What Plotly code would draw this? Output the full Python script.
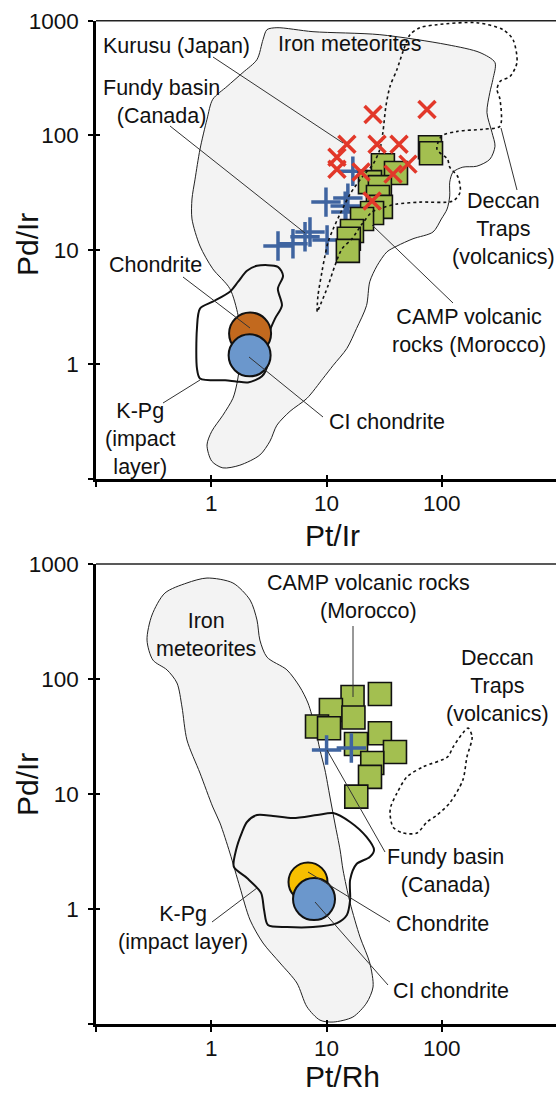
import plotly.graph_objects as go

W, H = 556, 1094
FONT = "Arial, Liberation Sans, sans-serif"

# ---------------- Top panel: Pt/Ir vs Pd/Ir ----------------
kurusu_ptir = [25.3, 74.3, 15.0, 27.4, 42.5, 12.3, 12.3, 19.9, 37.7, 50.8, 24.8]
kurusu_pdir = [152, 168, 83.5, 83.5, 83.5, 64.4, 50.6, 47.7, 45.8, 56.0, 26.7]

fundy_ptir = [3.79, 5.11, 6.50, 7.18, 10.1, 9.88, 14.5, 15.3, 14.7, 16.9]
fundy_pdir = [10.8, 11.3, 13.0, 14.3, 12.2, 26.1, 24.1, 28.3, 21.4, 48.6]

camp_ptir = [78.9, 80.5, 30.8, 40.0, 23.8, 29.0, 27.9, 29.6, 24.8, 20.3, 16.6, 15.6, 15.3]
camp_pdir = [78.7, 69.7, 54.8, 46.8, 39.0, 35.3, 28.9, 23.7, 21.0, 18.6, 14.6, 12.5, 9.8]

chondrite_ptir, chondrite_pdir = [2.17], [1.86]
ci_ptir, ci_pdir = [2.15], [1.20]

iron_ptir = [3.04, 3.71, 7.62, 29.0, 111, 214, 289, 277, 261, 246, 272, 289, 261, 201, 152,
             125, 117, 117, 111, 99, 83.7, 56.2, 40.8, 33.4, 27.4, 23.7, 22.2, 18.2, 15.0,
             11.4, 9.31, 6.76, 4.82, 3.71, 3.23, 2.64, 1.77, 1.26, 1.01, 0.918, 1.01, 1.26,
             1.54, 1.67, 1.77, 1.81, 1.71, 1.45, 1.03, 0.798, 0.680, 0.680, 0.723, 0.798,
             0.918, 1.03, 1.37, 1.88, 2.49, 2.81, 3.04]
iron_pdir = [835, 869, 802, 755, 618, 527, 431, 307, 237, 158, 106, 80.2, 61.8, 53.7, 52.7,
             47.7, 39.0, 29.5, 22.7, 18.6, 14.3, 12.5, 10.8, 9.61, 7.26, 5.27, 3.26, 2.06, 1.38,
             0.98, 0.755, 0.506, 0.390, 0.295, 0.214, 0.162, 0.132, 0.125, 0.143, 0.198, 0.261,
             0.360, 0.506, 0.683, 1.02, 1.68, 2.67, 4.58, 6.83, 10.8, 18.6, 27.8, 41.4, 75.5,
             138, 206, 267, 353, 458, 684, 835]

kpg_ptir = [2.49, 3.78, 4.19, 3.78, 4.10, 3.57, 3.23, 3.10, 3.10, 2.75, 2.08, 1.64, 1.32,
            0.798, 0.751, 0.751, 0.798, 1.03, 1.45, 1.71, 2.04, 2.49]
kpg_pdir = [7.26, 7.11, 5.94, 4.58, 3.26, 2.51, 1.98, 1.52, 1.02, 0.787, 0.697, 0.711, 0.726,
            0.755, 0.923, 2.06, 3.07, 3.53, 4.31, 5.27, 6.56, 7.26]

deccan_ptir = [8.26, 8.42, 9.12, 9.68, 10.3, 11.4, 13.1, 16.0, 20.3, 25.3, 29.0, 30.8, 32.7,
               35.5, 40.8, 46.0, 52.9, 64.5, 90.7, 201, 339, 414, 448, 390, 319, 301, 319,
               319, 227, 135, 99, 90.7, 112, 117, 138, 144, 125, 64.5, 40.8, 32.1, 24.8,
               20.3, 16.6, 13.6, 11.8, 10.3, 8.42]
deccan_pdir = [2.89, 3.98, 6.44, 8.87, 11.7, 15.2, 20.6, 30.7, 43.1, 56.0, 75.5, 106, 179,
               267, 375, 537, 755, 869, 923, 961, 835, 684, 431, 326, 295, 251, 206, 120,
               113, 108, 98, 75.5, 61.8, 52.7, 43.1, 31.9, 26.7, 26.1, 25.1, 23.7, 21.4,
               16.8, 12.5, 10.2, 7.26, 4.86, 2.95]

# ---------------- Bottom panel: Pt/Rh vs Pd/Ir ----------------
camp_ptrh = [16.8, 29.0, 10.9, 17.1, 8.26, 10.5, 18.0, 29.0, 39.2, 24.9, 23.8, 18.1]
camp_pdir_b = [69.7, 74.1, 53.7, 46.3, 38.6, 37.3, 27.2, 33.7, 23.2, 18.6, 14.1, 9.48]

fundy_ptrh = [10.0, 16.4]
fundy_pdir_b = [24.1, 25.1]

chondrite_ptrh, chondrite_pdir_b = [6.90], [1.72]
ci_ptrh, ci_pdir_b = [7.78], [1.22]

iron_ptrh = [0.918, 1.54, 2.17, 2.49, 2.64, 3.04, 4.53, 5.87, 6.90, 7.93, 8.77, 9.68, 10.7,
             11.8, 13.1, 13.9, 16.0, 19.5, 23.7, 25.3, 22.2, 16.9, 11.4, 8.77, 6.76, 5.53,
             3.95, 2.81, 2.17, 1.77, 1.45, 1.19, 1.03, 0.798, 0.615, 0.557, 0.504, 0.413,
             0.312, 0.277, 0.306, 0.396, 0.615, 0.918]
iron_pdir_b = [755, 684, 486, 326, 218, 155, 120, 85.2, 61.8, 38.3, 24.1, 16.2, 9.42, 5.59,
               3.26, 2.18, 1.13, 0.571, 0.339, 0.210, 0.152, 0.115, 0.104, 0.108, 0.141,
               0.227, 0.339, 0.506, 0.802, 1.55, 3.07, 5.59, 7.71, 15.2, 29.5, 57.1, 92.3,
               120, 146, 218, 360, 559, 684, 755]

kpg_ptrh = [2.49, 3.43, 5.11, 8.26, 11.4, 16.0, 22.2, 25.8, 23.7, 18.2, 16.0, 16.0, 15.0,
            12.3, 7.62, 4.53, 3.10, 2.87, 2.70, 2.04, 1.57, 1.64, 1.85, 2.04, 2.49]
kpg_pdir_b = [6.56, 6.44, 6.18, 6.56, 6.83, 5.71, 4.23, 3.26, 2.83, 2.46, 1.79, 1.20, 0.887,
              0.755, 0.697, 0.697, 0.726, 0.98, 1.38, 1.86, 2.32, 3.26, 4.67, 5.71, 6.56]

deccan_ptrh = [169, 183, 165, 152, 117, 90.7, 74.3, 60.8, 46.0, 37.7, 35.5, 36.2, 40.8, 49.8,
               68.5, 112, 125, 152, 169]
deccan_pdir_b = [37.5, 31.3, 21.0, 13.2, 8.35, 6.56, 5.71, 4.58, 4.58, 5.16, 6.83, 7.87, 10.2,
                 14.1, 17.2, 21.0, 25.6, 33.9, 37.5]

tick_vals = [0.1, 1, 10, 100, 1000]
tick_text = ["", "1", "10", "100", "1000"]

# ---------------- colours ----------------
C_IRON_FILL = "#f3f3f3"
C_CAMP = "#a3bf50"
C_KURUSU = "#e2382a"
C_FUNDY = "#3f64a0"
C_CHON_TOP = "#c2691e"
C_CHON_BOT = "#f7bf00"
C_CI = "#6b97cc"

fig = go.Figure()


def region(x, y, xa, ya, fill=None, width=1.0, dash=None, color="#222"):
    fig.add_trace(go.Scatter(
        x=x, y=y, xaxis=xa, yaxis=ya, mode="lines",
        fill="toself" if fill else None, fillcolor=fill,
        line=dict(color=color, width=width, dash=dash, shape="spline", smoothing=0.8),
        hoverinfo="skip", showlegend=False))


def points(x, y, xa, ya, symbol, size, color, lw, lc=None):
    marker = dict(symbol=symbol, size=size, color=color,
                  line=dict(color=lc if lc else color, width=lw))
    fig.add_trace(go.Scatter(x=x, y=y, xaxis=xa, yaxis=ya, mode="markers",
                             marker=marker, hoverinfo="skip", showlegend=False))


# top panel traces
region(iron_ptir, iron_pdir, "x", "y", fill=C_IRON_FILL, width=1.0)
region(kpg_ptir, kpg_pdir, "x", "y", width=2.0, color="#111")
points(chondrite_ptir, chondrite_pdir, "x", "y", "circle", 42, C_CHON_TOP, 2, "#111")
points(ci_ptir, ci_pdir, "x", "y", "circle", 42, C_CI, 2, "#111")
points(fundy_ptir, fundy_pdir, "x", "y", "cross-thin", 21, C_FUNDY, 3.5)
points(camp_ptir, camp_pdir, "x", "y", "square", 23, C_CAMP, 1.6, "#111")
region(deccan_ptir, deccan_pdir, "x", "y", width=1.6, dash="dot", color="#111")
points(kurusu_ptir, kurusu_pdir, "x", "y", "x-thin", 17, C_KURUSU, 3.5)

# bottom panel traces
region(iron_ptrh, iron_pdir_b, "x2", "y2", fill=C_IRON_FILL, width=1.0)
region(kpg_ptrh, kpg_pdir_b, "x2", "y2", width=2.0, color="#111")
region(deccan_ptrh, deccan_pdir_b, "x2", "y2", width=1.6, dash="dot", color="#111")
points(chondrite_ptrh, chondrite_pdir_b, "x2", "y2", "circle", 39, C_CHON_BOT, 2, "#111")
points(ci_ptrh, ci_pdir_b, "x2", "y2", "circle", 42, C_CI, 2, "#111")
points(camp_ptrh, camp_pdir_b, "x2", "y2", "square", 23, C_CAMP, 1.6, "#111")
points(fundy_ptrh, fundy_pdir_b, "x2", "y2", "cross-thin", 21, C_FUNDY, 3.5)

# empty traces to realise the overlay axes that carry the inner tick halves
fig.add_trace(go.Scatter(x=[], y=[], xaxis="x3", yaxis="y3", showlegend=False))
fig.add_trace(go.Scatter(x=[], y=[], xaxis="x4", yaxis="y4", showlegend=False))

XDOM = [96 / W, 1.0]
YDOM_TOP = [1 - 479 / H, 1 - 20.7 / H]
YDOM_BOT = [1 - 1024 / H, 1 - 564 / H]
XR = [-1, 2.99]
YR = [-1, 3]

base = dict(type="log", showgrid=False, zeroline=False, showline=True, linecolor="black",
            linewidth=2.5, ticks="outside", ticklen=5, tickwidth=2, tickcolor="black",
            tickvals=tick_vals, ticktext=tick_text, automargin=False,
            tickfont=dict(family=FONT, size=22.5, color="#111"))
inner = dict(type="log", showgrid=False, zeroline=False, showline=False, ticks="inside",
             ticklen=4, tickwidth=2, tickcolor="black", tickvals=tick_vals,
             showticklabels=False, automargin=False)

fig.update_layout(
    width=W, height=H, margin=dict(l=0, r=0, t=0, b=0),
    paper_bgcolor="white", plot_bgcolor="rgba(0,0,0,0)", showlegend=False,
    xaxis=dict(base, domain=XDOM, range=XR, anchor="y", ticklabelstandoff=-3),
    yaxis=dict(base, domain=YDOM_TOP, range=YR, anchor="x", ticklabelstandoff=5),
    xaxis2=dict(base, domain=XDOM, range=XR, anchor="y2", ticklabelstandoff=-3),
    yaxis2=dict(base, domain=YDOM_BOT, range=YR, anchor="x2", ticklabelstandoff=5),
    xaxis3=dict(inner, overlaying="x", anchor="y3", range=XR, side="bottom"),
    yaxis3=dict(inner, overlaying="y", anchor="x3", range=YR, side="left"),
    xaxis4=dict(inner, overlaying="x2", anchor="y4", range=XR, side="bottom"),
    yaxis4=dict(inner, overlaying="y2", anchor="x4", range=YR, side="left"),
)


def P(px):
    return px / W


def Q(py):
    return 1 - py / H


shapes = []
# top frame lines of both panels
for yy in (20.7, 564):
    shapes.append(dict(type="line", xref="paper", yref="paper", x0=P(96), x1=1,
                       y0=Q(yy), y1=Q(yy), line=dict(color="#222", width=1.5), layer="above"))

# leader lines (label -> feature)
leaders = [
    (213, 57, 343, 143), (170, 126, 305, 233), (501, 128, 517, 190), (183, 277, 250, 328),
    (163, 403, 200, 380), (372, 225, 453, 303), (249, 357, 323, 417),
    (353, 626, 353, 697), (327, 750, 385, 852), (308, 872, 390, 922), (315, 902, 388, 985),
    (212, 922, 257, 888),
]
for x0, y0, x1, y1 in leaders:
    shapes.append(dict(type="line", xref="paper", yref="paper", x0=P(x0), y0=Q(y0),
                       x1=P(x1), y1=Q(y1), line=dict(color="#333", width=1), layer="above"))
fig.update_layout(shapes=shapes)

labels = [
    ("Kurusu (Japan)", 176, 46),
    ("Iron meteorites", 349, 44),
    ("Fundy basin<br>(Canada)", 161, 102),
    ("Deccan<br>Traps<br>(volcanics)", 503, 229),
    ("Chondrite", 155, 265),
    ("K-Pg<br>(impact<br>layer)", 140, 439),
    ("CAMP volcanic<br>rocks (Morocco)", 469, 331),
    ("CI chondrite", 387, 422),
    ("Iron<br>meteorites", 206, 635),
    ("CAMP volcanic rocks<br>(Morocco)", 368, 597),
    ("Deccan<br>Traps<br>(volcanics)", 497, 686),
    ("Fundy basin<br>(Canada)", 445, 871),
    ("Chondrite", 442, 924),
    ("CI chondrite", 451, 991),
    ("K-Pg<br>(impact layer)", 183, 928),
]
ann = []
for t, x, y in labels:
    ann.append(dict(text=t, x=P(x), y=Q(y), xref="paper", yref="paper", showarrow=False,
                    xanchor="center", yanchor="middle", align="center",
                    font=dict(family=FONT, size=21.5, color="#111")))

# axis titles
for t, x, y in [("Pt/Ir", 303, 535), ("Pt/Rh", 303, 1076)]:
    ann.append(dict(text=t, x=P(x), y=Q(y), xref="paper", yref="paper", showarrow=False,
                    xanchor="left", yanchor="middle",
                    font=dict(family=FONT, size=30, color="#111")))
for y in (245, 785):
    ann.append(dict(text="Pd/Ir", x=P(27), y=Q(y), xref="paper", yref="paper",
                    showarrow=False, textangle=-90, xanchor="center", yanchor="middle",
                    font=dict(family=FONT, size=30, color="#111")))
fig.update_layout(annotations=ann)

fig.write_html("out.html", config={"displayModeBar": False},
               post_script="document.body.style.margin='0';")
